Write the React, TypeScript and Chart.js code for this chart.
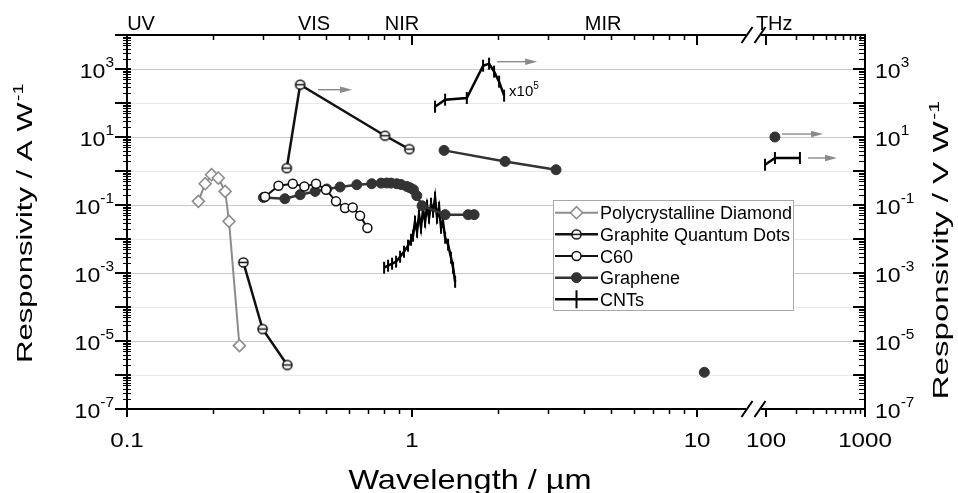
import React, { useEffect, useRef } from 'react';
import { Chart, registerables, LogarithmicScale } from 'chart.js';
import { drawPoint } from 'chart.js/helpers';

Chart.register(...registerables);

// ---------------- data ----------------
const diamondWl = [0.178, 0.188, 0.198, 0.209, 0.221, 0.228, 0.248];
const diamondResp = [0.128, 0.423, 0.778, 0.62, 0.251, 0.033, 7.3e-6];

const gqdWl = [0.256, 0.299, 0.365, 0.365, 0.3635, 0.405, 0.804, 0.978];
const gqdResp = [2.05e-3, 2.25e-5, 1.97e-6, null, 1.22, 345, 10.9, 4.4];

const c60Wl = [0.305, 0.34, 0.3815, 0.419, 0.4605, 0.499, 0.541, 0.582, 0.619, 0.657, 0.697];
const c60Resp = [0.175, 0.37, 0.423, 0.352, 0.423, 0.282, 0.128, 0.0817, 0.085, 0.0484, 0.0211];

const grapheneWl = [0.301, 0.358, 0.405, 0.457, 0.502, 0.559, 0.64, 0.722, 0.779, 0.815, 0.844, 0.884, 0.915, 0.958, 0.984, 1.011, 1.039, 1.084, 1.306, 1.573, 1.651, 1.651, 1.295, 2.12, 3.2, 3.2, 10.6, 10.6, 123];
const grapheneResp = [0.167, 0.153, 0.201, 0.251, 0.296, 0.339, 0.395, 0.423, 0.44, 0.444, 0.44, 0.423, 0.4, 0.352, 0.32, 0.282, 0.188, 0.095, 0.052, 0.052, 0.052, null, 4.04, 1.91, 1.09, null, 1.2e-6, null, 10];

const cntWl = [0.798, 0.824, 0.851, 0.879, 0.908, 0.937, 0.968, 0.992, 1.008, 1.024, 1.041, 1.058, 1.075, 1.093, 1.111, 1.129, 1.147, 1.166, 1.185, 1.204, 1.224, 1.244, 1.264, 1.284, 1.306, 1.338, 1.37, 1.393, 1.416, 1.416, 1.204, 1.306, 1.556, 1.775, 1.863, 1.94, 2.02, 2.103, 2.103, 97.7, 123, 220];
const cntResp = [1.43e-3, 1.64e-3, 1.88e-3, 2.15e-3, 3.01e-3, 4.23e-3, 6.35e-3, 9.53e-3, 0.0125, 0.0323, 0.0164, 0.0519, 0.0215, 0.0728, 0.0323, 0.0953, 0.0423, 0.109, 0.0635, 0.164, 0.0423, 0.0834, 0.0215, 0.0323, 0.0109, 6.8e-3, 2.82e-3, 1.43e-3, 5.5e-4, null, 77.8, 125, 140, 1250, 1432, 834, 423, 164, null, 1.53, 2.41, 2.41];

const seriesLabels = ['Polycrystalline Diamond', 'Graphite Quantum Dots', 'C60', 'Graphene', 'CNTs'];

const xMajorTicks = [0.1, 1, 10, 100, 1000];
const xMajorText = ['0.1', '1', '10', '100', '1000'];
const xMinorTicks = [0.2, 0.3, 0.4, 0.5, 0.6, 0.7, 0.8, 0.9, 2, 3, 4, 5, 6, 7, 8, 9, 200, 300, 400, 500, 600, 700, 800, 900];
const yLabelExps = [3, 1, -1, -3, -5, -7];

const regionNames = ['UV', 'VIS', 'NIR', 'MIR', 'THz'];
const regionWl = [0.112, 0.453, 0.922, 4.68, 121];

const arrowFromWl = [0.468, 1.988, 145, 266];
const arrowToWl = [0.616, 2.746, 377, 521];
const arrowResp = [246, 1640, 12.2, 2.41];

const scaleNoteWl = 2.19;
const scaleNoteResp = 164;

// ---------------- broken log axis ----------------
const LOG_MIN = -1, LOG_MAX = 3;
const BREAK_LO = 1.175, BREAK_HI = 1.939;
const FRAC_LO = 620 / 738, FRAC_HI = 633 / 738;

function brokenFrac(v: number): number {
  const l = Math.log10(v);
  if (l <= BREAK_LO) return ((l - LOG_MIN) / (BREAK_LO - LOG_MIN)) * FRAC_LO;
  if (l >= BREAK_HI) return FRAC_HI + ((l - BREAK_HI) / (LOG_MAX - BREAK_HI)) * (1 - FRAC_HI);
  return FRAC_LO + ((l - BREAK_LO) / (BREAK_HI - BREAK_LO)) * (FRAC_HI - FRAC_LO);
}
function brokenInv(f: number): number {
  let l;
  if (f <= FRAC_LO) l = LOG_MIN + (f / FRAC_LO) * (BREAK_LO - LOG_MIN);
  else if (f >= FRAC_HI) l = BREAK_HI + ((f - FRAC_HI) / (1 - FRAC_HI)) * (LOG_MAX - BREAK_HI);
  else l = BREAK_LO + ((f - FRAC_LO) / (FRAC_HI - FRAC_LO)) * (BREAK_HI - BREAK_LO);
  return Math.pow(10, l);
}

class BrokenLogScale extends LogarithmicScale {
  static id = 'brokenLog';
  getPixelForValue(value: any) {
    if (value === null || value === undefined || !(value > 0)) return NaN;
    return this.getPixelForDecimal(brokenFrac(value));
  }
  getValueForPixel(pixel: number) {
    return brokenInv(this.getDecimalForPixel(pixel));
  }
}
Chart.register(BrokenLogScale as any);

// ---------------- drawing helpers ----------------
const FONT = '"Liberation Sans", Arial, Helvetica, sans-serif';

function fillScaled(ctx: CanvasRenderingContext2D, s: string, x: number, y: number, font: string, sx = 1, align: CanvasTextAlign = 'left') {
  ctx.save();
  ctx.font = font;
  ctx.textAlign = align;
  ctx.textBaseline = 'alphabetic';
  ctx.translate(x, y);
  ctx.scale(sx, 1);
  ctx.fillText(s, 0, 0);
  ctx.restore();
}

function drawPow(ctx: CanvasRenderingContext2D, exp: number, x: number, y: number, align: 'left' | 'right') {
  const sx = 1.1;
  const bf = `21px ${FONT}`, ef = `14px ${FONT}`;
  ctx.font = bf;
  const wb = ctx.measureText('10').width * sx;
  ctx.font = ef;
  const ws = ctx.measureText(String(exp)).width * sx;
  const x0 = align === 'right' ? x - wb - ws : x;
  fillScaled(ctx, '10', x0, y + 9, bf, sx);
  fillScaled(ctx, String(exp), x0 + wb, y - 2.5, ef, sx);
}

function drawRotTitle(ctx: CanvasRenderingContext2D, main: string, sup: string, bx: number, cy: number, size: number, targetLen: number) {
  const mf = `${size}px ${FONT}`, sf = `${Math.round(size * 0.62)}px ${FONT}`;
  ctx.font = mf;
  const wm = ctx.measureText(main).width;
  ctx.font = sf;
  const ws = ctx.measureText(sup).width;
  const s = targetLen / (wm + ws);
  ctx.save();
  ctx.translate(bx, cy);
  ctx.rotate(-Math.PI / 2);
  ctx.scale(s, 1);
  ctx.fillStyle = '#000';
  ctx.textAlign = 'left';
  ctx.textBaseline = 'alphabetic';
  const x0 = -(wm + ws) / 2;
  ctx.font = mf;
  ctx.fillText(main, x0, 0);
  ctx.font = sf;
  ctx.fillText(sup, x0 + wm + 1, -size * 0.42);
  ctx.restore();
}

function makeGqdMarker(): HTMLCanvasElement {
  const c = document.createElement('canvas');
  c.width = 13;
  c.height = 13;
  const g = c.getContext('2d')!;
  g.beginPath();
  g.arc(6.5, 6.5, 4.6, 0, Math.PI * 2);
  g.fillStyle = '#fff';
  g.fill();
  g.lineWidth = 1.5;
  g.strokeStyle = '#111';
  g.stroke();
  g.beginPath();
  g.moveTo(2, 6.5);
  g.lineTo(11, 6.5);
  g.stroke();
  return c;
}

const decorPlugin = {
  id: 'decor',
  beforeDatasetsDraw(chart: any) {
    const { ctx, chartArea: a, scales } = chart;
    const y = scales.y;
    ctx.save();
    ctx.lineWidth = 1;
    for (let e = -6; e <= 3; e++) {
      const py = Math.round(y.getPixelForValue(Math.pow(10, e))) + 0.5;
      ctx.strokeStyle = e % 2 !== 0 ? '#c9c9c9' : '#e9e9e9';
      ctx.beginPath();
      ctx.moveTo(a.left, py);
      ctx.lineTo(a.right, py);
      ctx.stroke();
    }
    ctx.restore();
  },
  afterDatasetsDraw(chart: any) {
    const { ctx, chartArea: a, scales } = chart;
    const x = scales.x, y = scales.y;
    const L = a.left, R = a.right, T = a.top, B = a.bottom;
    const bx1 = x.getPixelForDecimal(FRAC_LO);
    const bx2 = x.getPixelForDecimal(FRAC_HI);
    ctx.save();
    ctx.fillStyle = '#000';
    ctx.strokeStyle = '#000';

    // frame
    ctx.lineWidth = 2;
    ctx.beginPath();
    ctx.moveTo(L, T); ctx.lineTo(L, B);
    ctx.moveTo(R, T); ctx.lineTo(R, B);
    for (const yy of [T, B]) {
      ctx.moveTo(L - 1, yy); ctx.lineTo(bx1 - 1, yy);
      ctx.moveTo(bx2 + 1, yy); ctx.lineTo(R + 1, yy);
    }
    ctx.stroke();
    // break marks
    ctx.lineWidth = 2;
    ctx.beginPath();
    for (const cx of [bx1, bx2]) {
      for (const yy of [T, B]) {
        ctx.moveTo(cx - 5.5, yy + 8);
        ctx.lineTo(cx + 5.5, yy - 8);
      }
    }
    ctx.stroke();

    // x ticks
    ctx.lineWidth = 1.5;
    ctx.beginPath();
    for (const v of xMinorTicks) {
      const px = Math.round(x.getPixelForValue(v)) + 0.5;
      ctx.moveTo(px, B); ctx.lineTo(px, B + 5);
      ctx.moveTo(px, T); ctx.lineTo(px, T + 5);
    }
    ctx.stroke();
    ctx.lineWidth = 2;
    ctx.beginPath();
    for (const v of xMajorTicks) {
      const px = Math.round(x.getPixelForValue(v));
      ctx.moveTo(px, B); ctx.lineTo(px, B + 8);
      ctx.moveTo(px, T); ctx.lineTo(px, T + 10);
    }
    ctx.stroke();

    // y ticks
    ctx.lineWidth = 1;
    ctx.beginPath();
    for (let e = -7; e <= 3; e++) {
      for (let k = 2; k <= 9; k++) {
        const py = Math.round(y.getPixelForValue(k * Math.pow(10, e))) + 0.5;
        ctx.moveTo(L - 4, py); ctx.lineTo(L + 4, py);
        ctx.moveTo(R - 6, py); ctx.lineTo(R, py);
      }
    }
    ctx.stroke();
    ctx.lineWidth = 2;
    ctx.beginPath();
    for (let e = -7; e <= 4; e++) {
      const py = Math.round(y.getPixelForValue(Math.pow(10, e)));
      ctx.moveTo(L - 12, py); ctx.lineTo(L + 4, py);
      ctx.moveTo(R - 12, py); ctx.lineTo(R, py);
    }
    ctx.stroke();

    // y labels
    for (const e of yLabelExps) {
      const py = y.getPixelForValue(Math.pow(10, e));
      drawPow(ctx, e, L - 13, py, 'right');
      drawPow(ctx, e, R + 10, py, 'left');
    }
    // x labels
    xMajorTicks.forEach((v, i) => {
      fillScaled(ctx, xMajorText[i], x.getPixelForValue(v), B + 38, `21px ${FONT}`, 1.15, 'center');
    });
    // region labels
    regionNames.forEach((s, i) => {
      fillScaled(ctx, s, x.getPixelForValue(regionWl[i]), T - 5, `20px ${FONT}`, 1.0, 'center');
    });

    // titles
    fillScaled(ctx, 'Wavelength / µm', 470, 489, `28px ${FONT}`, 1.16, 'center');
    drawRotTitle(ctx, 'Responsivity / A W', '-1', 32, 224, 22, 278);
    drawRotTitle(ctx, 'Responsivity / V W', '-1', 948, 251, 22, 297);

    // arrows
    ctx.strokeStyle = '#8a8a8a';
    ctx.fillStyle = '#8a8a8a';
    ctx.lineWidth = 1.4;
    arrowFromWl.forEach((w0, i) => {
      const x0 = x.getPixelForValue(w0), x1 = x.getPixelForValue(arrowToWl[i]);
      const py = y.getPixelForValue(arrowResp[i]);
      ctx.beginPath();
      ctx.moveTo(x0, py); ctx.lineTo(x1 - 10, py);
      ctx.stroke();
      ctx.beginPath();
      ctx.moveTo(x1, py); ctx.lineTo(x1 - 12, py - 3.2); ctx.lineTo(x1 - 12, py + 3.2);
      ctx.closePath();
      ctx.fill();
    });

    // x10^5 note
    ctx.fillStyle = '#000';
    {
      const px = x.getPixelForValue(scaleNoteWl), py = y.getPixelForValue(scaleNoteResp);
      ctx.font = `15px ${FONT}`;
      const w = ctx.measureText('x10').width;
      fillScaled(ctx, 'x10', px, py, `15px ${FONT}`);
      fillScaled(ctx, '5', px + w, py - 7, `10px ${FONT}`);
    }

    // legend
    const bxL = 553, byT = 200, bw = 240, bh = 110;
    ctx.fillStyle = '#fff';
    ctx.fillRect(bxL, byT, bw, bh);
    ctx.strokeStyle = '#a8a8a8';
    ctx.lineWidth = 1;
    ctx.strokeRect(bxL + 0.5, byT + 0.5, bw, bh);
    chart.data.datasets.forEach((ds: any, i: number) => {
      const cy = 212.7 + i * 21.65;
      ctx.strokeStyle = ds.borderColor;
      ctx.lineWidth = ds.borderWidth;
      ctx.beginPath();
      ctx.moveTo(bxL + 2, cy); ctx.lineTo(bxL + 45, cy);
      ctx.stroke();
      ctx.save();
      ctx.fillStyle = ds.pointBackgroundColor;
      ctx.strokeStyle = ds.pointBorderColor;
      ctx.lineWidth = ds.pointBorderWidth;
      drawPoint(ctx, {
        pointStyle: ds.pointStyle,
        rotation: ds.pointRotation || 0,
        radius: ds.legendRadius || ds.pointRadius,
        borderWidth: ds.pointBorderWidth,
      } as any, bxL + 23.5, cy);
      ctx.restore();
      ctx.fillStyle = '#000';
      fillScaled(ctx, ds.label, bxL + 47, cy + 6.5, `18px ${FONT}`);
    });
    ctx.restore();
  },
};

function pts(wl: number[], resp: (number | null)[]) {
  return wl.map((x, i) => ({ x, y: resp[i] }));
}

export default function App() {
  const ref = useRef<HTMLCanvasElement>(null);
  useEffect(() => {
    const canvas = ref.current!;
    const gqdMarker = makeGqdMarker();
    const chart = new Chart(canvas, {
      type: 'line',
      data: {
        datasets: [
          {
            label: seriesLabels[0], data: pts(diamondWl, diamondResp),
            borderColor: '#8c8c8c', borderWidth: 2, pointStyle: 'rectRot', pointRadius: 6,
            pointBackgroundColor: '#fff', pointBorderColor: '#8c8c8c', pointBorderWidth: 1.6,
          },
          {
            label: seriesLabels[1], data: pts(gqdWl, gqdResp),
            borderColor: '#111', borderWidth: 2.5, pointStyle: gqdMarker, pointRadius: 5,
            pointBackgroundColor: '#fff', pointBorderColor: '#111', pointBorderWidth: 1.5,
          },
          {
            label: seriesLabels[2], data: pts(c60Wl, c60Resp),
            borderColor: '#111', borderWidth: 2, pointStyle: 'circle', pointRadius: 4.5,
            pointBackgroundColor: '#fff', pointBorderColor: '#111', pointBorderWidth: 1.5,
          },
          {
            label: seriesLabels[3], data: pts(grapheneWl, grapheneResp),
            borderColor: '#333', borderWidth: 2.5, pointStyle: 'circle', pointRadius: 5,
            pointBackgroundColor: '#333', pointBorderColor: '#333', pointBorderWidth: 1,
          },
          {
            label: seriesLabels[4], data: pts(cntWl, cntResp),
            borderColor: '#000', borderWidth: 2.5, pointStyle: 'line', pointRotation: 90, pointRadius: 6,
            legendRadius: 9,
            pointBackgroundColor: '#000', pointBorderColor: '#000', pointBorderWidth: 2,
          },
        ] as any,
      },
      options: {
        animation: false,
        responsive: false,
        devicePixelRatio: 1,
        events: [],
        spanGaps: false,
        layout: { padding: { left: 127, right: 93, top: 35, bottom: 84 } },
        plugins: { legend: { display: false }, tooltip: { enabled: false } },
        elements: { line: { tension: 0 } },
        scales: {
          x: { type: 'brokenLog' as any, min: 0.1, max: 1000, display: false },
          y: { type: 'logarithmic', min: 1e-7, max: 1e4, display: false },
        },
      } as any,
      plugins: [decorPlugin],
    });
    return () => chart.destroy();
  }, []);
  return (
    <div style={{ position: 'fixed', left: 0, top: 0, width: 958, height: 493, background: '#fff' }}>
      <canvas ref={ref} width={958} height={493} style={{ display: 'block', width: 958, height: 493 }} />
    </div>
  );
}
